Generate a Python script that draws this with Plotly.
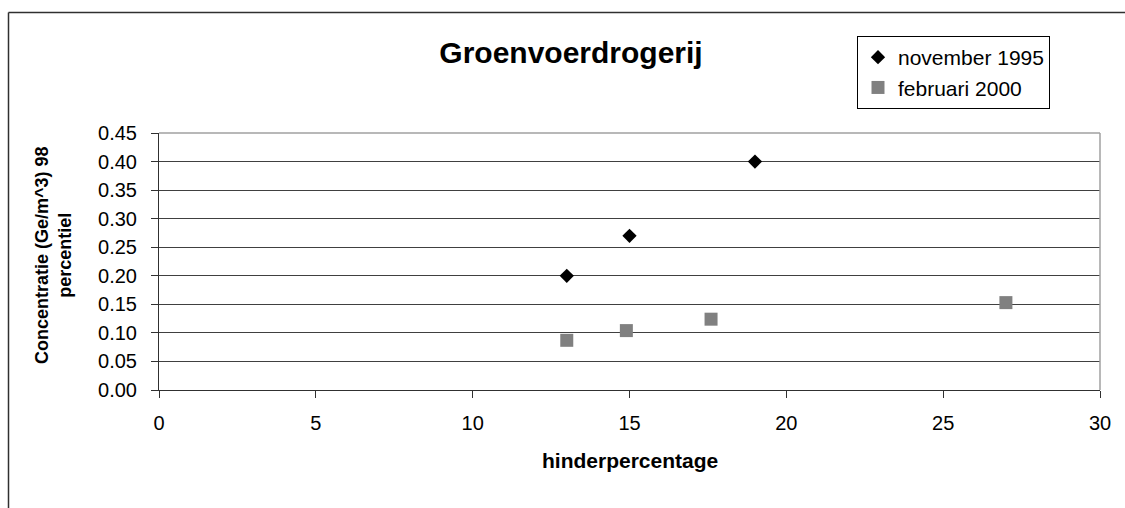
import plotly.graph_objects as go

x_nov1995 = [13, 15, 19]
y_nov1995 = [0.20, 0.27, 0.40]
x_feb2000 = [13, 14.9, 17.6, 27]
y_feb2000 = [0.087, 0.104, 0.124, 0.153]

W, H = 1125, 508
L, R, T, B = 159, 25, 133, 118
pw, ph = W - L - R, H - T - B

def px(x):
    return (x - L) / pw

def py(y):
    return (H - B - y) / ph

FONT = "Liberation Sans, Arial, sans-serif"

fig = go.Figure()
fig.add_trace(go.Scatter(x=x_nov1995, y=y_nov1995, mode="markers", name="november 1995",
                         marker=dict(symbol="diamond", size=11, color="black")))
fig.add_trace(go.Scatter(x=x_feb2000, y=y_feb2000, mode="markers", name="februari 2000",
                         marker=dict(symbol="square", size=13, color="#808080")))

fig.update_layout(
    width=W, height=H,
    margin=dict(l=L, r=R, t=T, b=B),
    paper_bgcolor="white", plot_bgcolor="white",
    font=dict(family=FONT, size=20, color="black"),
    title=dict(text="<b>Groenvoerdrogerij</b>", x=px(571), xref="paper", xanchor="center",
               y=1 - 52 / H, yanchor="middle", font=dict(size=30)),
    showlegend=True,
    legend=dict(x=px(857), y=py(36), xanchor="left", yanchor="top",
                bgcolor="white", bordercolor="black", borderwidth=1,
                font=dict(size=21), itemwidth=30, tracegroupgap=0),
    xaxis=dict(range=[0, 30], dtick=5, tick0=0, showgrid=False, zeroline=False,
               showline=True, linecolor="#303030", linewidth=1,
               ticks="outside", ticklen=7, tickcolor="#303030", ticklabelstandoff=8),
    yaxis=dict(range=[0, 0.45], dtick=0.05, tick0=0, tickformat=".2f",
               showgrid=True, gridcolor="#404040", gridwidth=1, zeroline=False,
               showline=True, linecolor="#303030", linewidth=1,
               ticks="outside", ticklen=7, tickcolor="#303030", ticklabelstandoff=10),
    annotations=[
        dict(text="<b>hinderpercentage</b>", xref="paper", yref="paper", x=px(630), y=py(460),
             xanchor="center", yanchor="middle", showarrow=False, font=dict(size=21)),
        dict(text="<b>Concentratie (Ge/m^3) 98<br>percentiel</b>", xref="paper", yref="paper",
             x=px(53), y=py(255), xanchor="center", yanchor="middle", showarrow=False,
             textangle=-90, font=dict(size=18)),
    ],
)

# plot area top/right border in gray
fig.add_shape(type="line", xref="paper", yref="paper", x0=0, y0=1, x1=1, y1=1,
              line=dict(color="#a0a0a0", width=1.5))
fig.add_shape(type="line", xref="paper", yref="paper", x0=1, y0=0, x1=1, y1=1,
              line=dict(color="#a0a0a0", width=1.5))
# outer chart frame (left and top visible)
fig.add_shape(type="line", xref="paper", yref="paper", x0=px(8.5), y0=py(12.5), x1=px(1130), y1=py(12.5),
              line=dict(color="#303030", width=1.5))
fig.add_shape(type="line", xref="paper", yref="paper", x0=px(8.5), y0=py(12.5), x1=px(8.5), y1=py(515),
              line=dict(color="#303030", width=1.5))

fig.write_html("out.html")
